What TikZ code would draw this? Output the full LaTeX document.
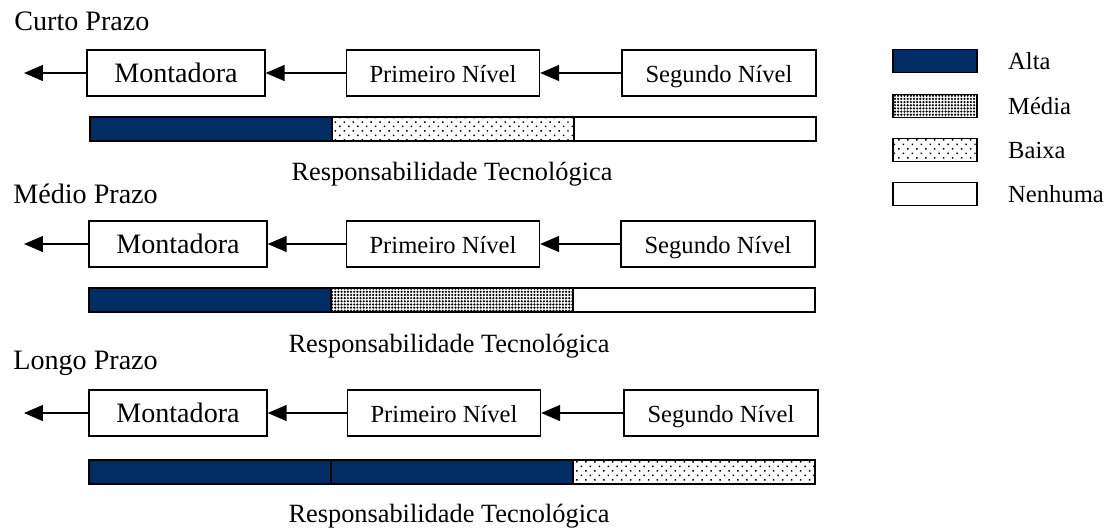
\documentclass[tikz,border=0pt]{standalone}
\usepackage{fontspec}
\setmainfont{Liberation Serif}
\usetikzlibrary{positioning, arrows.meta, patterns, patterns.meta}
\definecolor{azulescuro}{RGB}{0,46,100}

\begin{document}
\begin{tikzpicture}[x=0.02cm, y=-0.02cm, >={Triangle[length=0.38cm, width=0.32cm]},
  caixa/.style={draw, line width=0.8pt, inner sep=0pt, minimum height=0.92cm, text height=13pt, text depth=2pt, font=\fontsize{14}{16}\selectfont},
  titulo/.style={inner sep=0pt, anchor=base west, font=\fontsize{16}{18}\selectfont},
  resp/.style={inner sep=0pt, anchor=base, font=\fontsize{15}{17}\selectfont},
  seg/.style={draw, line width=0.8pt, inner sep=0pt, outer sep=0pt, minimum width=4.84cm, minimum height=0.48cm},
  alta/.style={seg, fill=azulescuro},
  media/.style={seg, pattern={Dots[distance=1.8pt, radius=0.7pt]}},
  baixa/.style={seg, pattern={Dots[distance=3.6pt, radius=0.6pt, angle=45]}},
  nenhuma/.style={seg, fill=white},
  leg/.style={minimum width=1.68cm, minimum height=0.46cm},
  legtxt/.style={right=0.5cm of #1, font=\fontsize{14}{16}\selectfont},
  seta/.style={->, line width=0.8pt}]
  \useasboundingbox (0,0) rectangle (1120,529);

  % curto prazo
  \node[titulo] (tit1) at (14,30) {Curto Prazo};
  \node[caixa, minimum width=3.56cm, font=\fontsize{16}{18}\selectfont] (mont1) at (176,73) {Montadora};
  \node[caixa, minimum width=3.86cm] (prim1) at (443,73) {Primeiro Nível};
  \node[caixa, minimum width=3.88cm] (seg1) at (719,73) {Segundo Nível};
  \coordinate (ponta1) at (24,73);
  \draw[seta] (mont1) -- (ponta1);
  \draw[seta] (prim1) -- (mont1);
  \draw[seta] (seg1) -- (prim1);
  \node[alta] (a1) at (211,129) {};
  \node[baixa, right=0pt of a1] (b1) {};
  \node[nenhuma, right=0pt of b1] (c1) {};
  \node[resp] (resp1) at (452,180) {Responsabilidade Tecnológica};

  % medio prazo
  \node[titulo] (tit2) at (13,203) {Médio Prazo};
  \node[caixa, minimum width=3.56cm, font=\fontsize{16}{18}\selectfont] (mont2) at (178,244) {Montadora};
  \node[caixa, minimum width=3.86cm] (prim2) at (443,244) {Primeiro Nível};
  \node[caixa, minimum width=3.88cm] (seg2) at (718,244) {Segundo Nível};
  \coordinate (ponta2) at (24,244);
  \draw[seta] (mont2) -- (ponta2);
  \draw[seta] (prim2) -- (mont2);
  \draw[seta] (seg2) -- (prim2);
  \node[alta] (a2) at (210,300) {};
  \node[media, right=0pt of a2] (b2) {};
  \node[nenhuma, right=0pt of b2] (c2) {};
  \node[resp] (resp2) at (449,352) {Responsabilidade Tecnológica};

  % longo prazo
  \node[titulo] (tit3) at (13,369) {Longo Prazo};
  \node[caixa, minimum width=3.56cm, font=\fontsize{16}{18}\selectfont] (mont3) at (178,413) {Montadora};
  \node[caixa, minimum width=3.86cm] (prim3) at (444,413) {Primeiro Nível};
  \node[caixa, minimum width=3.88cm] (seg3) at (721,413) {Segundo Nível};
  \coordinate (ponta3) at (24,413);
  \draw[seta] (mont3) -- (ponta3);
  \draw[seta] (prim3) -- (mont3);
  \draw[seta] (seg3) -- (prim3);
  \node[alta] (a3) at (210,472) {};
  \node[alta, right=0pt of a3] (b3) {};
  \node[baixa, right=0pt of b3] (c3) {};
  \node[resp] (resp3) at (449,522) {Responsabilidade Tecnológica};

  % legenda
  \node[alta, leg] (lalta) at (935,61) {};
  \node[legtxt=lalta] (talta) {Alta};
  \node[media, leg] (lmedia) at (935,106) {};
  \node[legtxt=lmedia] (tmedia) {Média};
  \node[baixa, leg] (lbaixa) at (935,150) {};
  \node[legtxt=lbaixa] (tbaixa) {Baixa};
  \node[nenhuma, leg] (lnenhuma) at (935,194) {};
  \node[legtxt=lnenhuma] (tnenhuma) {Nenhuma};
\end{tikzpicture}
\end{document}
